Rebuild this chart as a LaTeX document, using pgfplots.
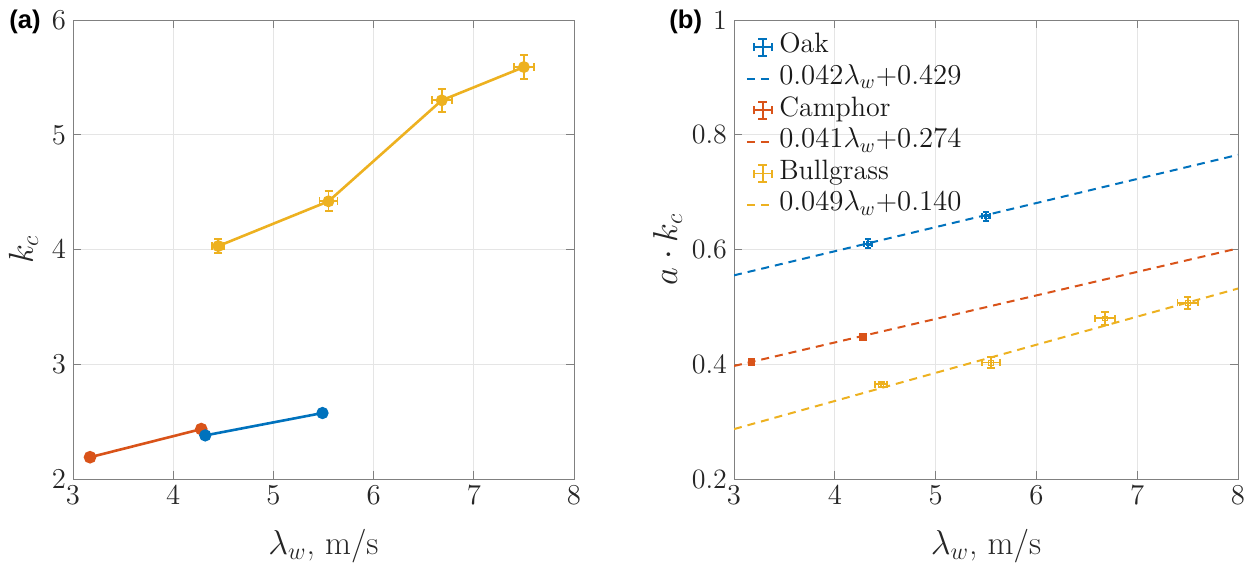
\documentclass[border=0pt]{standalone}
\usepackage{pgfplots}
\pgfplotsset{compat=1.18}
\usepackage{fontspec}
\newfontfamily\panelfont{Liberation Sans}
\definecolor{mblue}{rgb}{0,0.447,0.741}
\definecolor{morange}{rgb}{0.85,0.325,0.098}
\definecolor{myellow}{rgb}{0.929,0.694,0.125}
\pgfplotsset{
  mystyle/.style={
    scale only axis,
    xmin=3, xmax=8, xtick={3,4,5,6,7,8},
    grid=major,
    major grid style={black!10, line width=0.5pt},
    axis line style={black!50, line width=0.5pt},
    tick style={black!50, line width=0.5pt},
    tick align=inside, major tick length=4pt,
    ticklabel style={font=\fontsize{14}{16}\selectfont, text=black!85},
    label style={font=\fontsize{16.8}{19}\selectfont, text=black!85},
    xlabel={$\lambda_w$, m/s},
  },
  ebars/.style={
      error bars/x dir=both, error bars/x explicit,
      error bars/y dir=both, error bars/y explicit,
      error bars/error mark=|,
      error bars/error bar style={line width=0.9pt, solid},
      error bars/error mark options={mark size=#1, line width=0.9pt, solid},
  },
}
\pgfplotstableread{
x y ex ey
4.45 4.03 0.06 0.06
5.55 4.42 0.09 0.087
6.68 5.30 0.10 0.10
7.50 5.59 0.10 0.105
}\leftyellow
\pgfplotstableread{
x y ex ey
3.17 2.19 0.0 0.0
4.28 2.435 0.0 0.0
}\leftorange
\pgfplotstableread{
x y ex ey
4.32 2.38 0.03 0.02
5.49 2.575 0.04 0.025
}\leftblue
\pgfplotstableread{
x y ex ey
4.33 0.610 0.04 0.008
5.50 0.658 0.04 0.008
}\rightblue
\pgfplotstableread{
x y ex ey
3.17 0.404 0.0 0.0
4.28 0.448 0.0 0.0
}\rightorange
\pgfplotstableread{
x y ex ey
4.46 0.365 0.06 0.004
5.55 0.403 0.09 0.009
6.68 0.480 0.10 0.011
7.50 0.507 0.10 0.010
}\rightyellow
\newcommand{\ebicon}[1]{\draw[#1, line width=0.9pt, solid]
  (0.12cm,0cm) -- (0.44cm,0cm)
  (0.28cm,-0.15cm) -- (0.28cm,0.15cm)
  (0.2cm,-0.15cm) -- (0.36cm,-0.15cm)
  (0.2cm,0.15cm) -- (0.36cm,0.15cm)
  (0.12cm,-0.07cm) -- (0.12cm,0.07cm)
  (0.44cm,-0.07cm) -- (0.44cm,0.07cm);}
\begin{document}
\begin{tikzpicture}
\useasboundingbox (0pt,0pt) rectangle (628.5pt,-281pt);
% ---------- panel (a)
\begin{axis}[mystyle,
  at={(36.5pt,-239.5pt)}, anchor=south west,
  width=250.5pt, height=229.5pt,
  ymin=2, ymax=6, ytick={2,3,4,5,6},
  ylabel={$k_c$},
  xlabel style={at={(axis description cs:0.5,-0.165)}, anchor=base},
  ylabel style={at={(axis description cs:-0.08,0.5)}, anchor=base},
]
\addplot[color=myellow, line width=1.3pt, mark=*, mark size=2.3pt, ebars=2pt]
  table[x=x, y=y, x error=ex, y error=ey] {\leftyellow};
\addplot[color=morange, line width=1.3pt, mark=*, mark size=2.5pt]
  table[x=x, y=y] {\leftorange};
\addplot[color=mblue, line width=1.3pt, mark=*, mark size=2.4pt, ebars=1.5pt]
  table[x=x, y=y, x error=ex, y error=ey] {\leftblue};
\end{axis}
% ---------- panel (b)
\begin{axis}[mystyle,
  at={(367pt,-239.5pt)}, anchor=south west,
  width=252pt, height=229.5pt,
  ymin=0.2, ymax=1, ytick={0.2,0.4,0.6,0.8,1},
  yticklabels={0.2,0.4,0.6,0.8,1},
  ylabel={$a\cdot k_c$},
  xlabel style={at={(axis description cs:0.5,-0.165)}, anchor=base},
  ylabel style={at={(axis description cs:-0.113,0.5)}, anchor=base},
  legend style={draw=none, fill=none, at={(axis description cs:0.019,0.974)},
    anchor=north west, font=\fontsize{14}{16}\selectfont, text=black!90,
    row sep=3pt, inner sep=1pt,
    nodes={inner xsep=2pt, inner ysep=0pt, text height=9.3pt, text depth=3.5pt}},
  legend cell align=left,
]
\addplot[color=mblue, only marks, mark=square, mark size=1pt,
  legend image code/.code={\ebicon{mblue}}, ebars=1.6pt]
  table[x=x, y=y, x error=ex, y error=ey] {\rightblue};
\addlegendentry{Oak}
\addplot[color=mblue, line width=1pt, dash pattern=on 4pt off 3pt,
  legend image code/.code={\draw[mblue, line width=1pt, dash pattern=on 4pt off 3pt] (0cm,0cm) -- (0.48cm,0cm);}]
  coordinates {(3,0.555) (8,0.765)};
\addlegendentry{$0.042\lambda_w$+$0.429$}
\addplot[color=morange, only marks, mark=square*, mark size=1.6pt,
  legend image code/.code={\ebicon{morange}}]
  table[x=x, y=y] {\rightorange};
\addlegendentry{Camphor}
\addplot[color=morange, line width=1pt, dash pattern=on 4pt off 3pt,
  legend image code/.code={\draw[morange, line width=1pt, dash pattern=on 4pt off 3pt] (0cm,0cm) -- (0.48cm,0cm);}]
  coordinates {(3,0.397) (8,0.602)};
\addlegendentry{$0.041\lambda_w$+$0.274$}
\addplot[color=myellow, only marks, mark=square, mark size=1.2pt,
  legend image code/.code={\ebicon{myellow}}, ebars=1.8pt]
  table[x=x, y=y, x error=ex, y error=ey] {\rightyellow};
\addlegendentry{Bullgrass}
\addplot[color=myellow, line width=1pt, dash pattern=on 4pt off 3pt,
  legend image code/.code={\draw[myellow, line width=1pt, dash pattern=on 4pt off 3pt] (0cm,0cm) -- (0.48cm,0cm);}]
  coordinates {(3,0.287) (8,0.532)};
\addlegendentry{$0.049\lambda_w$+$0.140$}
\end{axis}
\node[anchor=north west, inner sep=0pt] at (4.5pt,-5pt)
  {\panelfont\bfseries\fontsize{12.8}{14}\selectfont (a)};
\node[anchor=north west, inner sep=0pt] at (334.5pt,-5pt)
  {\panelfont\bfseries\fontsize{12.8}{14}\selectfont (b)};
\end{tikzpicture}
\end{document}
